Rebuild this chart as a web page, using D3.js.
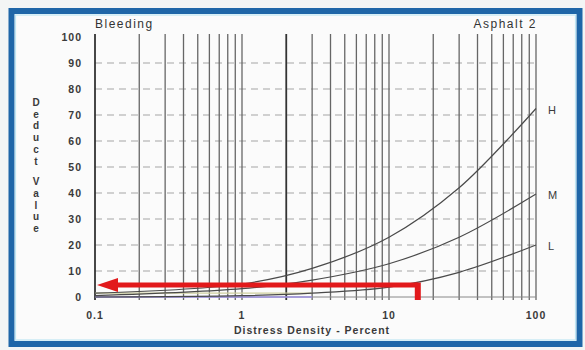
<!DOCTYPE html>
<html><head><meta charset="utf-8">
<script src="https://cdn.jsdelivr.net/npm/d3@7"></script>
<style>
html,body{margin:0;padding:0;background:#f3f5f5;}
svg{display:block;font-family:"Liberation Sans",Arial,sans-serif;}
</style></head>
<body>
<svg id="chart" width="585" height="350"></svg>
<script>
// ---- data ----
const title = "Bleeding";
const subtitle = "Asphalt 2";
const xTickLabels = [0.1, 1, 10, 100];
const yTickValues = [0,10,20,30,40,50,60,70,80,90,100];
const gridDensities = [0.1,0.2,0.3,0.4,0.5,0.6,0.7,0.8,0.9,1,2,3,4,5,6,7,8,9,10,20,30,40,50,60,70,80,90,100];
const highDensity = [0.1,1,3,10,30,100];
const highDeduct  = [1.5,5,11,23,42,72.5];
const medDensity  = [0.1,1,3,10,30,100];
const medDeduct   = [0.5,3.2,6.5,12.8,23,39.6];
const lowDensity  = [0.1,1,3,10,30,100];
const lowDeduct   = [0,0.5,1.5,3.8,9.5,20];
const severityLabels = ["H","M","L"];
const readDensity = 15.7;   // red marker: density
const readDeduct  = 4.6;    // red marker: deduct value read
const yTitle = "Deduct Value";
const xTitle = "Distress Density - Percent";

const svg = d3.select("#chart");
const x = d3.scaleLog().domain([0.1,100]).range([95,536]);
const y = d3.scaleLinear().domain([0,100]).range([297,37]);

// frame
svg.append("rect").attr("x",0).attr("y",0).attr("width",585).attr("height",350).attr("fill","#f3f5f5");
svg.append("rect").attr("x",11.5).attr("y",11).attr("width",568).attr("height",333)
  .attr("fill","#fbfbfb").attr("stroke","#1f66a8").attr("stroke-width",6);
svg.append("rect").attr("x",15.5).attr("y",15).attr("width",560).attr("height",325)
  .attr("fill","none").attr("stroke","#bfe6f3").attr("stroke-width",1.2);

// horizontal dashed grid
svg.append("g").selectAll("line").data(yTickValues.filter(v=>v>0 && v<100)).join("line")
  .attr("x1",x(0.1)).attr("x2",x(100)).attr("y1",d=>y(d)).attr("y2",d=>y(d))
  .attr("stroke","#a5a5a5").attr("stroke-width",1).attr("stroke-dasharray","7,5");

// vertical grid
svg.append("g").selectAll("line").data(gridDensities).join("line")
  .attr("x1",d=>x(d)).attr("x2",d=>x(d)).attr("y1",34).attr("y2",300)
  .attr("stroke",d=>(d===2||d===0.1)?"#333":"#666")
  .attr("stroke-width",d=>(d===2||d===0.1)?1.8:1.3);

// baseline
svg.append("line").attr("x1",x(0.1)).attr("x2",x(100)).attr("y1",y(0)).attr("y2",y(0))
  .attr("stroke","#888").attr("stroke-width",1);
svg.append("line").attr("x1",x(0.1)).attr("x2",x(3)).attr("y1",y(0)).attr("y2",y(0))
  .attr("stroke","#9c90e0").attr("stroke-width",1.5);
svg.append("line").attr("x1",x(0.1)).attr("x2",x(3)).attr("y1",y(1.5)).attr("y2",y(1.5))
  .attr("stroke","#cfd0a0").attr("stroke-width",1.2);

// y tick labels
svg.append("g").selectAll("text").data(yTickValues).join("text")
  .attr("x",82).attr("y",d=>y(d)+4).attr("text-anchor","end")
  .attr("font-size",10.5).attr("font-weight","bold").attr("letter-spacing",1)
  .attr("fill","#3a3a3a").text(d=>d);

// x tick labels
svg.append("g").selectAll("text").data(xTickLabels).join("text")
  .attr("x",d=>x(d)).attr("y",319).attr("text-anchor","middle")
  .attr("font-size",10.5).attr("font-weight","bold").attr("letter-spacing",1)
  .attr("fill","#3a3a3a").text(d=>d);

// curves
const line = d3.line().x(d=>x(d[0])).y(d=>y(d[1])).curve(d3.curveCatmullRom.alpha(0.5));
const series = [
  [highDensity, highDeduct],
  [medDensity, medDeduct],
  [lowDensity, lowDeduct]
];
series.forEach(([ds,vs],i)=>{
  const pts = ds.map((d,j)=>[d,vs[j]]);
  svg.append("path").attr("d",line(pts)).attr("fill","none")
    .attr("stroke","#4a4a4a").attr("stroke-width",1.2);
  svg.append("text").attr("x",548).attr("y",y(vs[vs.length-1])+5)
    .attr("font-size",11).attr("fill","#3a3a3a").text(severityLabels[i]);
});

// red reading marker
svg.append("path")
  .attr("d",`M${x(readDensity)},${y(readDeduct)} L${x(0.1)+20},${y(readDeduct)}`)
  .attr("stroke","#e2191b").attr("stroke-width",5).attr("fill","none");
svg.append("line").attr("x1",x(readDensity)).attr("x2",x(readDensity))
  .attr("y1",y(readDeduct)-2.5).attr("y2",y(0)+3)
  .attr("stroke","#e2191b").attr("stroke-width",6);
svg.append("path")
  .attr("d",`M${x(0.1)+2},${y(readDeduct)} L${x(0.1)+23},${y(readDeduct)-7} L${x(0.1)+23},${y(readDeduct)+7} Z`)
  .attr("fill","#e2191b");

// titles
svg.append("text").attr("x",95).attr("y",28).attr("font-size",12).attr("letter-spacing",1.5)
  .attr("fill","#333").text(title);
svg.append("text").attr("x",537).attr("y",28).attr("text-anchor","end").attr("font-size",12)
  .attr("letter-spacing",1.5).attr("fill","#333").text(subtitle);
svg.append("text").attr("x",312).attr("y",334).attr("text-anchor","middle").attr("font-size",10.5)
  .attr("font-weight","bold").attr("letter-spacing",1).attr("fill","#3a3a3a").text(xTitle);

// vertical stacked y title
const chars = yTitle.split("");
let yy = 106;
const yt = svg.append("text").attr("font-size",10).attr("font-weight","bold").attr("fill","#3a3a3a");
chars.forEach(c=>{
  if(c===" "){ yy += 9; return; }
  yt.append("tspan").attr("x",36).attr("y",yy).attr("text-anchor","middle").text(c);
  yy += 11.7;
});
</script>
</body></html>
